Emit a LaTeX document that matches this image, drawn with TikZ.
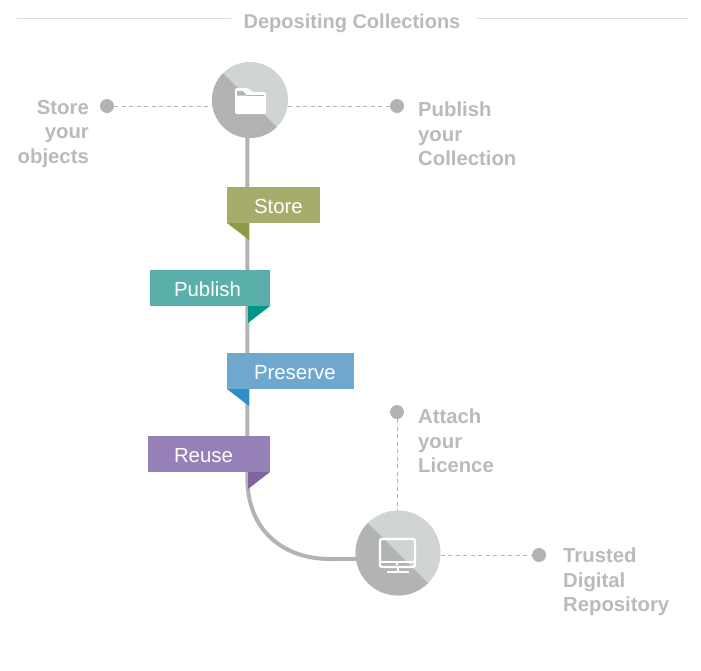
\documentclass[tikz,border=0pt]{standalone}
\usepackage{fontspec}
\setmainfont{Liberation Sans}
\usepackage{tikz}
\usetikzlibrary{calc}
\definecolor{hubdark}{HTML}{B2B4B3}
\definecolor{hublight}{HTML}{D0D4D3}
\definecolor{greytext}{HTML}{BABABA}
\definecolor{storefill}{HTML}{A8AC6A}
\definecolor{storefold}{HTML}{8F9A45}
\definecolor{publishfill}{HTML}{5AAFAB}
\definecolor{publishfold}{HTML}{009688}
\definecolor{preservefill}{HTML}{6FA8CF}
\definecolor{preservefold}{HTML}{2F8FC4}
\definecolor{reusefill}{HTML}{9580B8}
\definecolor{reusefold}{HTML}{7F64A0}
\tikzstyle{hub}=[
        circle,
        inner sep=0pt,
        outer sep=0pt,
        fill=hublight,
        path picture={\fill[hubdark] (path picture bounding box.north west) -- (path picture bounding box.south east) -- (path picture bounding box.south west) -- cycle;}
]
\tikzstyle{dot}=[circle,fill=hubdark,inner sep=0pt,outer sep=0pt,minimum size=14pt]
\tikzstyle{ribbon}=[rectangle,inner sep=0pt,outer sep=0pt,text height=26pt,text depth=10pt,align=left,text=white,font=\fontsize{20.4}{24}\selectfont]
\tikzstyle{caption}=[inner sep=0pt,text=greytext,font=\fontsize{20.3}{24.6}\selectfont\bfseries]
\tikzstyle{spine}=[draw=hubdark,line width=4pt]
\tikzstyle{lead}=[draw=hubdark,line width=1pt,dash pattern=on 4pt off 3.5pt]
\tikzstyle{rulegrey}=[draw=black!13,line width=1pt]

\begin{document}
\begin{tikzpicture}[x=1pt,y=-1pt]
\useasboundingbox (0,0) rectangle (701,670);
\node[caption,font=\fontsize{20}{24}\selectfont\bfseries] (title) at (352,23) {Depositing Collections};
\coordinate (ruleaa) at (17,18);
\coordinate (ruleab) at (231,18);
\coordinate (ruleba) at (477,18);
\coordinate (rulebb) at (689,18);
\draw[rulegrey] (ruleaa) -- (ruleab);
\draw[rulegrey] (ruleba) -- (rulebb);
\node[hub,minimum size=76pt] (tophub) at (250,100) {};
\node[hub,minimum size=85pt] (bothub) at (398,553) {};
\node[dot] (dotstore) at (107,106) {};
\node[dot] (dotpublish) at (397,106) {};
\node[dot] (dotlicence) at (397,412) {};
\node[dot] (dotrepo) at (539,555) {};
\node[caption,anchor=east,align=right] (objects) at (89,134) {Store\\your\\objects};
\node[caption,anchor=west,align=left] (collection) at (418,134) {Publish\\your\\Collection};
\node[caption,anchor=west,align=left] (licence) at (418,441) {Attach\\your\\Licence};
\node[caption,anchor=west,align=left] (repository) at (563,582) {Trusted\\Digital\\Repository};
%Leaders
\draw[lead] (dotstore) -- (dotstore -| tophub.west);
\draw[lead] (tophub.east |- dotpublish) -- (dotpublish);
\draw[lead] (dotlicence) -- (dotlicence |- bothub.north);
\draw[lead] (bothub.east |- dotrepo) -- (dotrepo);
%Spine
\coordinate (spinebend) at (247.35,478);
\coordinate (spineflat) at (330,559);
\draw[spine] (tophub.266) -- (spinebend) .. controls (247.35,532) and (285,559) .. (spineflat) -- (bothub.188);
%Ribbons
\node[ribbon,fill=storefill,text width=93pt] (store) at (273.5,205) {\hspace*{27pt}Store};
\node[ribbon,fill=publishfill,text width=120pt] (publish) at (210,288) {\hspace*{24pt}Publish};
\node[ribbon,fill=preservefill,text width=127pt] (preserve) at (290.5,371) {\hspace*{27pt}Preserve};
\node[ribbon,fill=reusefill,text width=122pt] (reuse) at (209,454) {\hspace*{26pt}Reuse};
\fill[storefold] (store.south west) -- ++(22,0) -- ++(0,17) -- cycle;
\fill[publishfold] (publish.south east) -- ++(-22,0) -- ++(0,17) -- cycle;
\fill[preservefold] (preserve.south west) -- ++(22,0) -- ++(0,17) -- cycle;
\fill[reusefold] (reuse.south east) -- ++(-22,0) -- ++(0,17) -- cycle;
%Folder
\fill[white,rounded corners=1.5pt] (235,114) -- (235,88) -- (248,88) -- (252,92) -- (266,92) -- (266,114) -- cycle;
\fill[hubdark] (237,91) -- (243,91) -- (247,95.5) -- (237,95.5) -- cycle;
\draw[hubdark,line width=.8pt] (247,95) -- (264,95);
%Monitor
\draw[white,line width=2.2pt,rounded corners=1.5pt] (380,539) rectangle (415,567);
\draw[white,line width=1.5pt] (380,562) -- (415,562);
\fill[white] (397,564) circle (1.5pt);
\draw[white,line width=2pt] (397.5,567) -- (397.5,572);
\draw[white,line width=2pt] (387,572) -- (409,572);
\end{tikzpicture}
\end{document}
